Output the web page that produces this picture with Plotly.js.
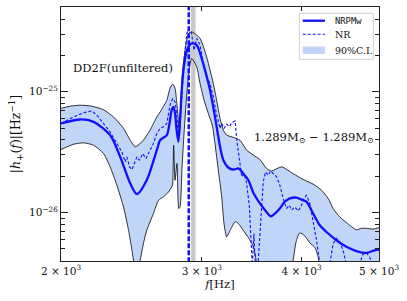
<!DOCTYPE html>
<html><head><meta charset="utf-8">
<script src="https://cdn.plot.ly/plotly-3.0.1.min.js"></script>
<style>html,body{margin:0;padding:0;background:#fff}#chart{width:407px;height:301px}</style>
</head><body><div id="chart"></div>
<script>
// amplitudes in units of 1e-26 Hz^-1, frequencies in Hz
const SCALE = 1e-26;
const upperFreq = [2000,2054,2114,2186,2261,2326,2395,2442,2477,2512,2536,2585,2636,2661,2687,2713,2738,2760,2778,2791,2805,2813,2824,2840,2868,2887,2914,2957,2986,3015,3043,3073,3102,3132,3163,3193,3224,3287,3350,3415,3481,3548,3616,3668,3776,3904,4018,4136,4237,4319,4381,4466,4596,4684,4752,4821,4915,5000];
const upperAmp = [7.3,7.6,7.75,7.6,7.1,6.2,4.97,3.97,3.50,3.73,3.97,4.81,6.2,6.8,7.6,8.5,10.7,11.6,10.7,8.26,5.8,4.52,8.0,15.1,25.2,30.4,31.4,29.5,27.7,23.6,19.5,15.1,11.7,8.5,6.0,4.81,4.38,4.19,3.97,3.29,2.99,2.75,2.32,2.21,2.39,2.10,1.88,1.72,1.53,1.31,1.08,0.92,0.785,0.72,0.74,0.74,0.73,0.75];
const lowerFreq = [2000,2074,2135,2197,2261,2304,2349,2395,2430,2454,2477,2494,2512,2536,2560,2610,2648,2687,2726,2751,2758,2767,2778,2794,2808,2818,2835,2851,2879,2914,2957,2986,3021,3058,3093,3117,3147,3178,3199,3224,3256,3303,3335,3382,3432,3475,3498,3520,3616,3867,3904,3942,3980,4038,4097,4156,4196,4224,4298,5000];
const lowerAmp = [3.33,3.68,3.78,3.61,3.08,2.39,1.69,1.11,0.71,0.487,0.33,0.30,0.40,0.553,0.71,0.98,1.26,1.35,1.48,1.63,1.69,3.61,1.85,2.55,1.08,1.11,2.39,4.52,11.0,18.9,16.1,11.7,8.5,6.6,5.3,3.73,2.24,1.35,0.81,0.63,0.71,0.84,0.81,0.71,0.62,0.536,0.457,0.355,0.2,0.2,0.40,0.59,0.68,0.64,0.56,0.515,0.43,0.312,0.2,0.2];
const nrpmwFreq = [2000,2114,2197,2304,2372,2442,2489,2560,2636,2661,2713,2734,2751,2765,2778,2791,2805,2818,2832,2846,2868,2887,2914,2957,2986,3029,3073,3117,3163,3193,3240,3287,3335,3382,3432,3481,3548,3616,3658,3704,3757,3812,3867,3942,4000,4057,4136,4216,4298,4423,4552,4684,4821,4939,5000];
const nrpmwAmp = [5.47,5.9,5.64,4.38,2.89,1.74,1.42,1.85,3.29,3.97,4.38,5.47,7.05,7.5,6.6,4.81,3.85,5.8,10.3,15.1,20.8,23.6,25.2,24.4,20.8,15.1,10.3,6.2,3.50,2.72,2.35,2.27,2.32,2.10,1.85,1.46,1.19,1.01,0.93,0.98,1.08,1.23,1.31,1.33,1.28,1.23,0.98,0.785,0.69,0.59,0.52,0.48,0.463,0.487,0.493];
const nrFreq = [2000,2074,2135,2186,2218,2261,2304,2349,2372,2384,2395,2406,2418,2437,2454,2470,2489,2507,2531,2555,2585,2610,2636,2661,2687,2713,2738,2760,2778,2791,2805,2818,2832,2851,2874,2892,2914,2934,2957,2986,3015,3043,3073,3102,3132,3163,3178,3199,3224,3249,3271,3303,3319,3344,3367,3389,3415,3442,3458,3471,3487,3501,3531,3555,3582,3606,3634,3658,3687,3722,3757,3793,3830,3861,3887,3923,3961,4000,4026,4057,4097,4136,4176,4216,4277,4339,4381,4423,4466,4509,4552,4640,4729,4775,4821,4867,4915,5000];
const nrAmp = [5.47,6.2,6.7,6.96,6.4,5.47,4.66,3.73,3.39,3.18,2.89,2.63,2.89,2.39,2.27,2.55,2.89,2.72,3.08,2.8,3.29,3.73,4.52,4.97,5.13,5.47,7.75,8.8,8.26,6.6,4.24,5.13,8.5,18.3,30.4,33.5,30.4,22.1,27.7,24.4,16.6,13.3,11.7,9.1,6.4,4.97,5.47,4.97,5.4,5.13,5.54,5.75,3.97,2.72,1.98,2.10,1.74,1.11,0.59,0.355,0.67,0.355,0.40,0.92,1.80,2.17,2.04,2.21,2.10,1.98,1.69,1.31,1.08,1.15,1.05,1.11,1.03,1.15,1.31,1.39,1.19,0.86,0.59,0.378,0.2,0.378,0.553,0.61,0.57,0.487,0.378,0.2,0.378,0.452,0.463,0.43,0.355,0.26];
const nrPeakFreq = 2890;          // vertical dashed line
const f2Band = [2910, 2947];      // grey band
const xTickVals = [2000, 3000, 4000, 5000];
const xTickText = ['2 × 10<sup>3</sup>', '3 × 10<sup>3</sup>', '4 × 10<sup>3</sup>', '5 × 10<sup>3</sup>'];
const yTickVals = [1e-26, 1e-25];
const yTickText = ['10<sup>−26</sup>', '10<sup>−25</sup>'];
const yMinorVals = [4e-27,5e-27,6e-27,7e-27,8e-27,9e-27,2e-26,3e-26,4e-26,5e-26,6e-26,7e-26,8e-26,9e-26,2e-25,3e-25,4e-25,5e-25];
const yRangeVals = [3.97e-27, 5.04e-25];
const xRangeVals = [2000, 5000];
const legendLabels = ['NRPMw', 'NR', '90%C.I.'];

const sc = a => a.map(v => v * SCALE);
const FONT = 'DejaVu Serif, serif';
const BLUE = '#1010ff';
const fillCol = 'rgba(100,149,237,0.4)';

const traces = [
  {x: lowerFreq, y: sc(lowerAmp), mode: 'lines', line: {width: 0, shape: 'spline', smoothing: 0.6}, showlegend: false, hoverinfo: 'skip'},
  {x: upperFreq, y: sc(upperAmp), mode: 'lines', fill: 'tonexty', fillcolor: fillCol, line: {width: 0, shape: 'spline', smoothing: 0.6}, name: legendLabels[2], showlegend: false, hoverinfo: 'skip'},
  {x: [f2Band[0], f2Band[1], f2Band[1], f2Band[0]], y: [yRangeVals[0]*0.5, yRangeVals[0]*0.5, yRangeVals[1]*2, yRangeVals[1]*2], mode: 'lines', fill: 'toself', fillcolor: 'rgb(200,200,200)', line: {width: 0}, showlegend: false, hoverinfo: 'skip'},
  {x: lowerFreq, y: sc(lowerAmp), mode: 'lines', line: {color: '#000', width: 0.8, shape: 'spline', smoothing: 0.6}, showlegend: false, hoverinfo: 'skip'},
  {x: upperFreq, y: sc(upperAmp), mode: 'lines', line: {color: '#000', width: 0.8, shape: 'spline', smoothing: 0.6}, showlegend: false, hoverinfo: 'skip'},
  {x: nrFreq, y: sc(nrAmp), mode: 'lines', name: legendLabels[1], showlegend: false, line: {color: BLUE, width: 1.1, dash: '3px,2px'}},
  {x: [nrPeakFreq, nrPeakFreq], y: [yRangeVals[0]*0.5, yRangeVals[1]*2], mode: 'lines', line: {color: BLUE, width: 2.5, dash: '5px,2px'}, showlegend: false, hoverinfo: 'skip'},
  {x: nrpmwFreq, y: sc(nrpmwAmp), mode: 'lines', name: legendLabels[0], showlegend: false, line: {color: BLUE, width: 2.3, shape: 'spline', smoothing: 0.8}}
];

const axisCommon = {
  type: 'log', showline: true, linecolor: '#222', linewidth: 1, mirror: 'allticks',
  ticks: 'inside', tickcolor: '#222', showgrid: false, zeroline: false,
  tickfont: {family: FONT, size: 10.5, color: '#111'}
};

// legend drawn in paper coordinates (box at top right of the plot area)
const L = {x0: 0.7494, x1: 0.9821, y0: 0.7941, y1: 0.9752, sx0: 0.760, sx1: 0.830, tx: 0.8544, rows: [0.946, 0.8925, 0.830]};
const legendShapes = [
  {type: 'rect', xref: 'paper', yref: 'paper', x0: L.x0, x1: L.x1, y0: L.y0, y1: L.y1, line: {color: '#d0d0d0', width: 1}, fillcolor: 'rgba(255,255,255,0.85)', layer: 'above'},
  {type: 'line', xref: 'paper', yref: 'paper', x0: L.sx0, x1: L.sx1, y0: L.rows[0], y1: L.rows[0], line: {color: BLUE, width: 2.3}, layer: 'above'},
  {type: 'line', xref: 'paper', yref: 'paper', x0: L.sx0, x1: L.sx1, y0: L.rows[1], y1: L.rows[1], line: {color: BLUE, width: 1.1, dash: '3px,2px'}, layer: 'above'},
  {type: 'rect', xref: 'paper', yref: 'paper', x0: L.sx0, x1: L.sx1, y0: L.rows[2] - 0.0145, y1: L.rows[2] + 0.0145, line: {width: 0}, fillcolor: fillCol, layer: 'above'}
];
const legendTexts = [
  {xref: 'paper', yref: 'paper', x: L.tx, y: L.rows[0], text: legendLabels[0], showarrow: false, xanchor: 'left', yanchor: 'middle', font: {family: 'DejaVu Sans Mono, monospace', size: 8.8, color: '#111'}},
  {xref: 'paper', yref: 'paper', x: L.tx, y: L.rows[1], text: legendLabels[1], showarrow: false, xanchor: 'left', yanchor: 'middle', font: {family: FONT, size: 9.5, color: '#111'}},
  {xref: 'paper', yref: 'paper', x: L.tx, y: L.rows[2], text: legendLabels[2], showarrow: false, xanchor: 'left', yanchor: 'middle', font: {family: FONT, size: 9.5, color: '#111'}}
];

const layout = {
  width: 407, height: 301,
  margin: {l: 61, r: 28, t: 7, b: 40},
  paper_bgcolor: '#fff', plot_bgcolor: '#fff',
  showlegend: false,
  hovermode: false,
  xaxis: Object.assign({}, axisCommon, {
    range: xRangeVals.map(Math.log10),
    tickmode: 'array', tickvals: xTickVals, ticktext: xTickText, ticklen: 4,
    title: {text: '<i>f</i>[Hz]', font: {family: FONT, size: 11.5, color: '#111'}, standoff: 4}
  }),
  yaxis: Object.assign({}, axisCommon, {
    range: yRangeVals.map(Math.log10),
    tickmode: 'array', tickvals: yTickVals, ticktext: yTickText, ticklen: 7,
    minor: {tickmode: 'array', tickvals: yMinorVals, ticks: 'inside', ticklen: 4, tickcolor: '#222', showgrid: false},
    title: {text: '|<i>h</i><sub>+</sub>(<i>f</i>)|[Hz<sup>−1</sup>]', font: {family: FONT, size: 12.5, color: '#111'}, standoff: 5}
  }),
  shapes: legendShapes,
  annotations: [
    {xref: 'paper', yref: 'paper', x: 0.195, y: 0.761, text: 'DD2F(unfiltered)', showarrow: false, xanchor: 'center', yanchor: 'middle', font: {family: FONT, size: 11.5, color: '#111'}},
    {xref: 'paper', yref: 'paper', x: 0.99, y: 0.488, text: '1.289M<sub>⊙</sub> − 1.289M<sub>⊙</sub>', showarrow: false, xanchor: 'right', yanchor: 'middle', font: {family: FONT, size: 11.5, color: '#111'}}
  ].concat(legendTexts)
};

Plotly.newPlot('chart', traces, layout, {displayModeBar: false, staticPlot: true});
</script>
</body></html>
